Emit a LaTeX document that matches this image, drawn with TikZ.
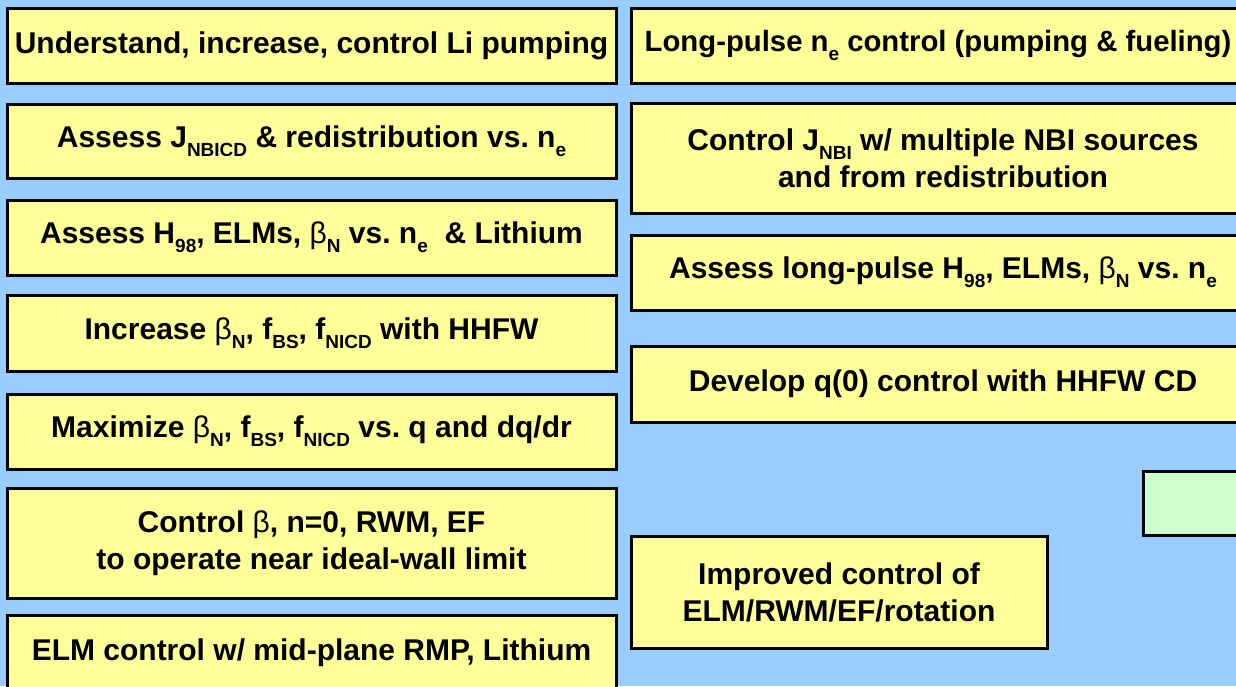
\documentclass[tikz,border=0pt]{standalone}
\usepackage{fontspec}
\setmainfont{Liberation Sans}
\frenchspacing
\definecolor{bgblue}{HTML}{99CCFF}
\definecolor{boxyellow}{HTML}{FFFF99}
\definecolor{boxgreen}{HTML}{CCFFCC}
\newcommand\sbs[1]{\raisebox{-0.3em}{\fontsize{19}{19}\selectfont #1}}
\newcommand\bt{{\mdseries β}}
\begin{document}
\begin{tikzpicture}[x=1pt,y=-1pt,
  box/.style={draw=black, line width=3pt, fill=boxyellow, anchor=north west,
    align=center, inner sep=0pt, font=\fontsize{30}{37}\selectfont\bfseries\frenchspacing},
  lbox/.style={box, minimum width=609pt},
  rbox/.style={box, minimum width=624pt},
  gbox/.style={draw=black, line width=3pt, fill=boxgreen, anchor=north west, inner sep=0pt}]
\useasboundingbox (0,0) rectangle (1236,686);
\clip (0,0) rectangle (1236,686);
\fill[bgblue] (0,0) rectangle (1236,686);
% left column
\node[lbox, minimum height=75pt] (l1) at (5.5,6.5) {Understand, increase, control Li pumping};
\node[lbox, minimum height=74pt] (l2) at (5.5,102.5) {Assess J\sbs{NBICD} \& redistribution vs. n\sbs{e}};
\node[lbox, minimum height=75pt] (l3) at (5.5,198.5) {Assess H\sbs{98}, ELMs, \bt\sbs{N} vs. n\sbs{e} \ \& Lithium};
\node[lbox, minimum height=76pt] (l4) at (5.5,293.5) {Increase \bt\sbs{N}, f\sbs{BS}, f\sbs{NICD} with HHFW};
\node[lbox, minimum height=75pt] (l5) at (5.5,392.5) {Maximize \bt\sbs{N}, f\sbs{BS}, f\sbs{NICD} vs. q and dq/dr};
\node[lbox, minimum height=110pt] (l6) at (5.5,486.5) {Control \bt, n=0, RWM, EF\\to operate near ideal-wall limit};
\node[lbox, minimum height=75pt] (l7) at (5.5,613.5) {ELM control w/ mid-plane RMP, Lithium};
% right column
\node[rbox, minimum width=614pt, minimum height=75pt, font=\fontsize{29.3}{37}\selectfont\bfseries\frenchspacing] (r1) at (629.5,6.5) {Long-pulse n\sbs{e} control (pumping \& fueling)};
\node[rbox, minimum height=110pt] (r2) at (629.5,101.5) {Control J\sbs{NBI} w/ multiple NBI sources\\and from redistribution};
\node[rbox, minimum height=75pt] (r3) at (629.5,233.5) {Assess long-pulse H\sbs{98}, ELMs, \bt\sbs{N} vs. n\sbs{e}};
\node[rbox, minimum height=76pt] (r4) at (629.5,344.5) {Develop q(0) control with HHFW CD};
\node[box, minimum width=416pt, minimum height=112pt] (r5) at (629.5,534.5) {Improved control of\\ELM/RWM/EF/rotation};
\node[gbox, minimum width=150pt, minimum height=64pt] (g) at (1141.5,469.5) {};
\end{tikzpicture}
\end{document}
